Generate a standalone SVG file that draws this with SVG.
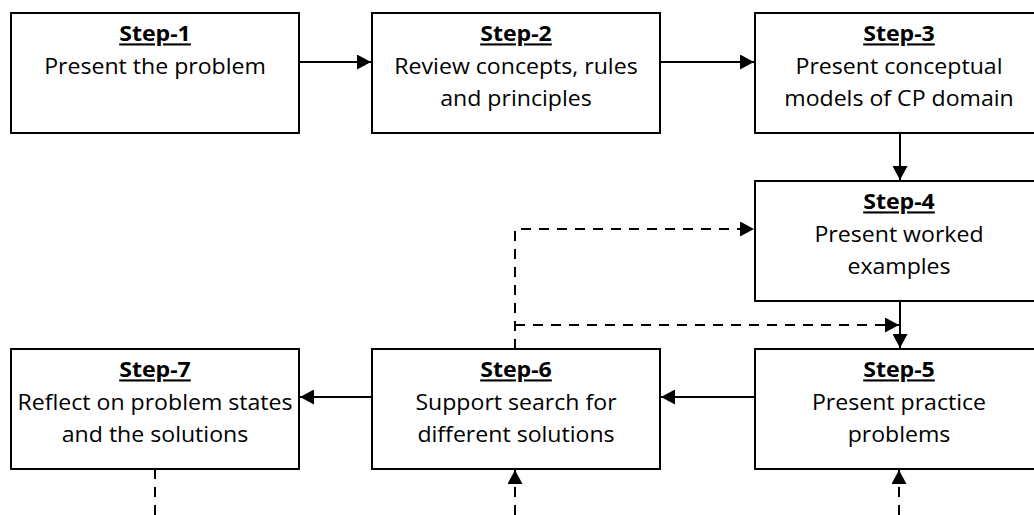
<svg xmlns="http://www.w3.org/2000/svg" width="1034" height="515" viewBox="0 0 1034 515">
<style>
.box{fill:#fff;stroke:#000;stroke-width:2}
.t{font-family:"Open Sans","Liberation Sans",sans-serif;font-size:21px;fill:#000;text-anchor:middle}
.h{font-weight:bold;text-decoration:underline}
.c{fill:none;stroke:#000;stroke-width:2}
.d{stroke-dasharray:10 8}
</style>
<defs>
<marker id="ah" viewBox="0 0 14 15" refX="14" refY="7.5" markerWidth="14" markerHeight="15" markerUnits="userSpaceOnUse" orient="auto">
<path d="M0,0 L14,7.5 L0,15 Z" fill="#000"/>
</marker>
</defs>
<rect width="1034" height="515" fill="#fff"/>
<g id="connectors">
<line class="c" x1="299" y1="62" x2="371" y2="62" marker-end="url(#ah)"/>
<line class="c" x1="660" y1="62" x2="754" y2="62" marker-end="url(#ah)"/>
<line class="c" x1="900" y1="133" x2="900" y2="180" marker-end="url(#ah)"/>
<line class="c" x1="900" y1="301" x2="900" y2="348" marker-end="url(#ah)"/>
<line class="c" x1="755" y1="397" x2="661" y2="397" marker-end="url(#ah)"/>
<line class="c" x1="372" y1="397" x2="300" y2="397" marker-end="url(#ah)"/>
<path class="c d" d="M515,349 L515,229 L754,229" marker-end="url(#ah)"/>
<line class="c d" x1="515" y1="325" x2="899" y2="325" marker-end="url(#ah)"/>
<line class="c d" x1="155" y1="469" x2="155" y2="515"/>
<line class="c d" x1="515" y1="515" x2="515" y2="470" marker-end="url(#ah)"/>
<line class="c d" x1="899" y1="515" x2="899" y2="470" marker-end="url(#ah)"/>
</g>
<g id="step1">
<rect class="box" x="11" y="13" width="288" height="120"/>
<g transform="translate(155,0) scale(1.1,1)"><text class="t h" x="0" y="41.5">Step-1</text><text class="t" x="0" y="74">Present the problem</text></g>
</g>
<g id="step2">
<rect class="box" x="372" y="13" width="288" height="120"/>
<g transform="translate(516,0) scale(1.1,1)"><text class="t h" x="0" y="41.5">Step-2</text><text class="t" x="0" y="74">Review concepts, rules</text><text class="t" x="0" y="106">and principles</text></g>
</g>
<g id="step3">
<rect class="box" x="755" y="13" width="290" height="120"/>
<g transform="translate(899,0) scale(1.1,1)"><text class="t h" x="0" y="41.5">Step-3</text><text class="t" x="0" y="74">Present conceptual</text><text class="t" x="0" y="106">models of CP domain</text></g>
</g>
<g id="step4">
<rect class="box" x="755" y="181" width="290" height="120"/>
<g transform="translate(899,0) scale(1.1,1)"><text class="t h" x="0" y="209.5">Step-4</text><text class="t" x="0" y="242">Present worked</text><text class="t" x="0" y="274">examples</text></g>
</g>
<g id="step5">
<rect class="box" x="755" y="349" width="290" height="120"/>
<g transform="translate(899,0) scale(1.1,1)"><text class="t h" x="0" y="377.5">Step-5</text><text class="t" x="0" y="410">Present practice</text><text class="t" x="0" y="442">problems</text></g>
</g>
<g id="step6">
<rect class="box" x="372" y="349" width="288" height="120"/>
<g transform="translate(516,0) scale(1.1,1)"><text class="t h" x="0" y="377.5">Step-6</text><text class="t" x="0" y="410">Support search for</text><text class="t" x="0" y="442">different solutions</text></g>
</g>
<g id="step7">
<rect class="box" x="11" y="349" width="288" height="120"/>
<g transform="translate(155,0) scale(1.1,1)"><text class="t h" x="0" y="377.5">Step-7</text><text class="t" x="0" y="410">Reflect on problem states</text><text class="t" x="0" y="442">and the solutions</text></g>
</g>
</svg>
